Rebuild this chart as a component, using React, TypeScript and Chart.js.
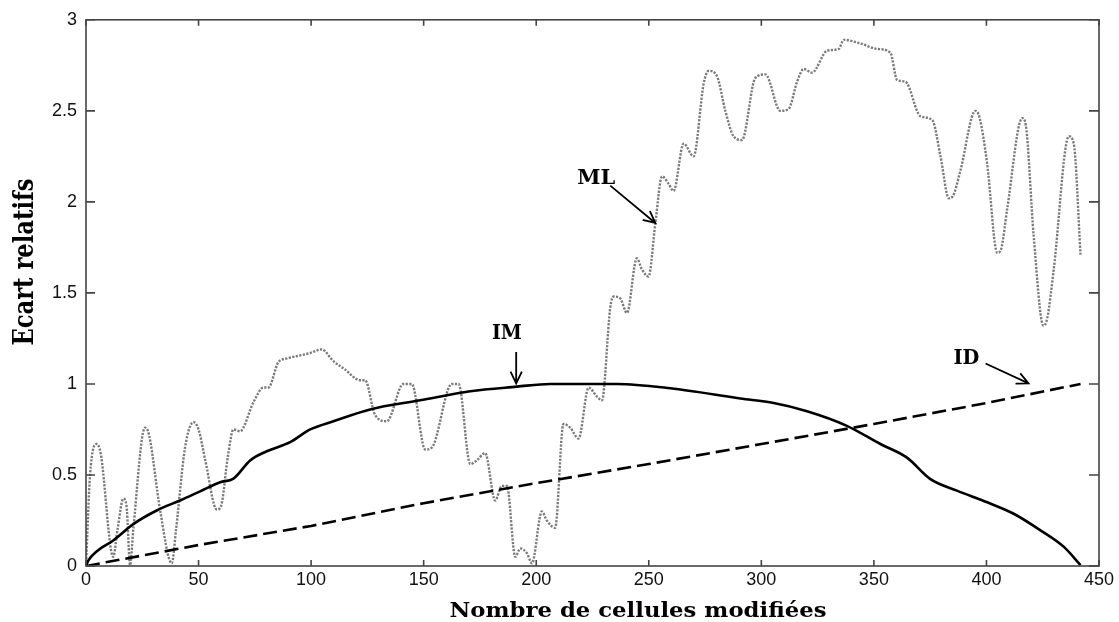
import React, { useEffect, useRef } from "react";
import { Chart, registerables } from "chart.js";

Chart.register(...registerables);

// ---------- data ----------
const xTicks = [0, 50, 100, 150, 200, 250, 300, 350, 400, 450];
const yTicks = [0, 0.5, 1, 1.5, 2, 2.5, 3];

const mlX = [
  0, 1.8, 4.7, 6.5, 12.1, 14, 16.6, 18, 19.6, 21, 26.2, 28, 33, 38.1, 40, 44, 47.7, 50, 53, 58.1, 60, 63,
  65.5, 68.4, 74.4, 78.8, 81, 85.5, 89.3, 99.6, 104.7, 109.9, 115, 121.8, 124, 128.4, 133.6, 141, 144.7,
  150.7, 153.6, 162.5, 165.5, 170.7, 173.6, 177.3, 181.8, 184.7, 187, 190.7, 192.9, 195.9, 198.1, 202.5,
  204.7, 208.4, 212.1, 215.1, 218.8, 223.3, 227, 229.2, 232.9, 234.4, 237.3, 240.3, 244.7, 246.9, 249.9,
  252.9, 255.9, 258.8, 261, 265.5, 269.9, 274.4, 276.6, 280.3, 284, 287.7, 291.4, 297.3, 301.8, 308.4,
  312.1, 315.9, 318.8, 322.5, 329.2, 334.4, 336.6, 344, 351.4, 357.3, 360.3, 364, 370.7, 375.9, 379.6,
  383.3, 385, 388.4, 395.1, 397, 400.3, 404.8, 406.5, 409.2, 415.9, 417.5, 421, 425.3, 427, 429.9, 436.6,
  438.8, 441.8,
];
const mlY = [
  0, 0.5, 0.67, 0.62, 0.05, 0.2, 0.37, 0.33, 0.005, 0.2, 0.76, 0.72, 0.3, 0.015, 0.2, 0.65, 0.79, 0.75,
  0.58, 0.31, 0.33, 0.6, 0.75, 0.74, 0.9, 0.98, 0.98, 1.12, 1.14, 1.17, 1.19, 1.125, 1.08, 1.02, 1.02,
  0.83, 0.795, 1.0, 1.0, 0.64, 0.65, 1.0, 1.0, 0.56, 0.58, 0.62, 0.36, 0.44, 0.44, 0.05, 0.096, 0.07,
  0.015, 0.3, 0.25, 0.21, 0.78, 0.76, 0.7, 0.98, 0.93, 0.91, 1.42, 1.48, 1.47, 1.39, 1.69, 1.63, 1.59,
  1.88, 2.14, 2.1, 2.06, 2.32, 2.25, 2.65, 2.72, 2.69, 2.5, 2.36, 2.34, 2.68, 2.7, 2.5, 2.51, 2.66, 2.73,
  2.71, 2.83, 2.84, 2.89, 2.87, 2.84, 2.82, 2.67, 2.66, 2.47, 2.45, 2.25, 2.02, 2.03, 2.17, 2.5, 2.46,
  2.21, 1.72, 1.74, 1.96, 2.46, 2.42, 1.81, 1.32, 1.36, 1.63, 2.36, 2.32, 1.71,
];

const imX = [
  0, 1, 4.7, 12.1, 21, 31.4, 41.8, 50.7, 59.6, 65.5, 72.9, 80.3, 90.7, 99.6, 109.9, 126.2, 148.4, 170.7,
  191.4, 206.2, 235.9, 259.6, 290.7, 305.5, 320.3, 338, 352.9, 364.7, 375.1, 386.9, 400.3, 412.1, 424,
  434.4, 441.8,
];
const imY = [
  0, 0.03, 0.08, 0.14, 0.23, 0.305, 0.36, 0.41, 0.46, 0.48, 0.58, 0.63, 0.68, 0.75, 0.795, 0.86, 0.91,
  0.96, 0.985, 1.0, 1.0, 0.976, 0.92, 0.895, 0.85, 0.77, 0.67, 0.595, 0.477, 0.414, 0.35, 0.287, 0.196,
  0.105, 0.005,
];

const idX = [0, 50, 100, 150, 200, 250, 300, 350, 400, 441.8];
const idY = [0, 0.115, 0.22, 0.345, 0.455, 0.56, 0.67, 0.78, 0.895, 1.0];

// annotations (data coordinates)
const annLabels = ["ML", "IM", "ID"];
const annTextX = [226.7, 187, 391.1];
const annTextY = [2.1, 1.248, 1.112];
const annTextW = [38, 30, 26];
const annFromX = [232.9, 191.1, 399.6];
const annFromY = [2.089, 1.176, 1.112];
const annToX = [252.9, 191.1, 418.7];
const annToY = [1.884, 1.003, 1.003];

const xTitle = "Nombre de cellules modifiées";
const yTitle = "Ecart relatifs";

const toPts = (xs: number[], ys: number[]) => xs.map((x, i) => ({ x, y: ys[i] }));

function fitText(
  ctx: CanvasRenderingContext2D,
  text: string,
  cx: number,
  baseY: number,
  targetW: number,
  targetCap: number,
  angle: number
) {
  ctx.save();
  ctx.font = 'bold 100px "DejaVu Serif"';
  const w = ctx.measureText(text).width;
  const cap = ctx.measureText("H").actualBoundingBoxAscent || 73;
  ctx.translate(cx, baseY);
  ctx.rotate(angle);
  ctx.scale(targetW / w, targetCap / cap);
  ctx.textAlign = "center";
  ctx.textBaseline = "alphabetic";
  ctx.fillStyle = "#000";
  ctx.fillText(text, 0, 0);
  ctx.restore();
}

const framePlugin = {
  id: "frame",
  afterDraw(chart: any) {
    const ctx: CanvasRenderingContext2D = chart.ctx;
    const { left, right, top, bottom } = chart.chartArea;
    const xs = chart.scales.x;
    const ys = chart.scales.y;
    ctx.save();
    ctx.strokeStyle = "#444";
    ctx.lineWidth = 1.6;
    ctx.strokeRect(left, top, right - left, bottom - top);
    ctx.beginPath();
    xTicks.forEach((v) => {
      const px = xs.getPixelForValue(v);
      ctx.moveTo(px, bottom);
      ctx.lineTo(px, bottom - 6);
      ctx.moveTo(px, top);
      ctx.lineTo(px, top + 6);
    });
    yTicks.forEach((v) => {
      const py = ys.getPixelForValue(v);
      ctx.moveTo(left, py);
      ctx.lineTo(left + 9, py);
      ctx.moveTo(right, py);
      ctx.lineTo(right - 10, py);
    });
    ctx.stroke();
    ctx.restore();

    // axis titles
    fitText(ctx, xTitle, 638, 617, 377, 15, 0);
    fitText(ctx, yTitle, 33, 262, 167, 21, -Math.PI / 2);

    // annotations
    annLabels.forEach((lab, i) => {
      const tx = xs.getPixelForValue(annTextX[i]);
      const ty = ys.getPixelForValue(annTextY[i]);
      fitText(ctx, lab, tx, ty, annTextW[i], 15, 0);
      const x0 = xs.getPixelForValue(annFromX[i]);
      const y0 = ys.getPixelForValue(annFromY[i]);
      const x1 = xs.getPixelForValue(annToX[i]);
      const y1 = ys.getPixelForValue(annToY[i]);
      const ang = Math.atan2(y1 - y0, x1 - x0);
      const hl = 13;
      const ha = 0.45;
      ctx.save();
      ctx.strokeStyle = "#000";
      ctx.lineWidth = 1.8;
      ctx.beginPath();
      ctx.moveTo(x0, y0);
      ctx.lineTo(x1, y1);
      ctx.moveTo(x1 - hl * Math.cos(ang - ha), y1 - hl * Math.sin(ang - ha));
      ctx.lineTo(x1, y1);
      ctx.lineTo(x1 - hl * Math.cos(ang + ha), y1 - hl * Math.sin(ang + ha));
      ctx.stroke();
      ctx.restore();
    });
  },
};

export default function App() {
  const ref = useRef<HTMLCanvasElement | null>(null);
  useEffect(() => {
    if (!ref.current) return;
    const chart = new Chart(ref.current, {
      type: "line",
      data: {
        datasets: [
          {
            label: "ML",
            data: toPts(mlX, mlY),
            borderColor: "#7a7a7a",
            borderWidth: 2.4,
            borderDash: [2.2, 1.4],
            pointRadius: 0,
            cubicInterpolationMode: "monotone",
            fill: false,
            order: 3,
          },
          {
            label: "IM",
            data: toPts(imX, imY),
            borderColor: "#000",
            borderWidth: 2.6,
            pointRadius: 0,
            cubicInterpolationMode: "monotone",
            fill: false,
            order: 1,
          },
          {
            label: "ID",
            data: toPts(idX, idY),
            borderColor: "#000",
            borderWidth: 2.6,
            borderDash: [14, 6],
            pointRadius: 0,
            tension: 0,
            fill: false,
            order: 2,
          },
        ],
      },
      options: {
        animation: false,
        responsive: false,
        parsing: false,
        layout: { padding: { left: 0, top: 15, right: 20, bottom: 0 } },
        plugins: { legend: { display: false }, tooltip: { enabled: false }, title: { display: false } },
        scales: {
          x: {
            type: "linear",
            min: 0,
            max: 450,
            afterBuildTicks: (s: any) => {
              s.ticks = xTicks.map((v) => ({ value: v }));
            },
            afterFit: (s: any) => {
              s.height = 56;
            },
            ticks: {
              callback: (v: any) => String(v),
              font: { family: '"Liberation Sans", Arial', size: 18 },
              color: "#111",
              padding: 3,
              maxRotation: 0,
              autoSkip: false,
            },
            grid: { display: false, drawTicks: false },
            border: { display: false },
          },
          y: {
            type: "linear",
            min: 0,
            max: 3,
            afterBuildTicks: (s: any) => {
              s.ticks = yTicks.map((v) => ({ value: v }));
            },
            afterFit: (s: any) => {
              s.width = 86;
            },
            ticks: {
              callback: (v: any) => String(v),
              font: { family: '"Liberation Sans", Arial', size: 18 },
              color: "#111",
              padding: 9,
              autoSkip: false,
            },
            grid: { display: false, drawTicks: false },
            border: { display: false },
          },
        },
      },
      plugins: [framePlugin],
    } as any);
    return () => chart.destroy();
  }, []);
  return (
    <div style={{ position: "absolute", left: 0, top: 0, width: 1119, height: 622, background: "#fff" }}>
      <canvas ref={ref} width={1119} height={622} />
    </div>
  );
}
